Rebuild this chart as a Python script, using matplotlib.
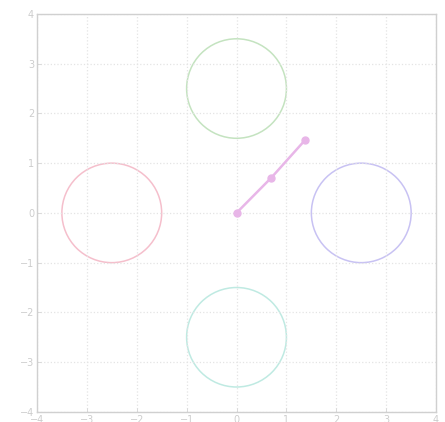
import matplotlib
matplotlib.use("Agg")
import matplotlib.pyplot as plt
from matplotlib.patches import Circle

# Circle centres and colours
centers_x = [0.0, -2.5, 2.5, 0.0]
centers_y = [2.5, 0.0, 0.0, -2.5]
radius = 1.0
circle_colors = ["#c4e3c0", "#f5bfcc", "#c8c2f3", "#bfeae2"]

# Pendulum arm points
arm_x = [0.0, 0.70, 1.37]
arm_y = [0.0, 0.71, 1.46]

ticks = [-4, -3, -2, -1, 0, 1, 2, 3, 4]

fig = plt.figure(figsize=(4.45, 4.22), dpi=100)
ax = fig.add_axes([0.083, 0.024, 0.897, 0.943])

for cx, cy, col in zip(centers_x, centers_y, circle_colors):
    ax.add_patch(Circle((cx, cy), radius, fill=False, edgecolor=col, linewidth=1.1))

ax.plot(arm_x, arm_y, color="#e8b6e8", linewidth=1.8, marker="o", markersize=5)

ax.set_xlim(-4, 4)
ax.set_ylim(-4, 4)
ax.set_xticks(ticks)
ax.set_yticks(ticks)
ax.set_xticklabels(["\u2212%d" % -t if t < 0 else str(t) for t in ticks])
ax.set_yticklabels(["\u2212%d" % -t if t < 0 else str(t) for t in ticks])
ax.grid(True, linestyle=":", color="#e4e4e4", linewidth=0.9)
ax.tick_params(direction="in", length=3, width=0.6, colors="#d4d4d4",
               labelsize=7, labelcolor="#cdcdcd", pad=2)
for s in ax.spines.values():
    s.set_color("#d0d0d0")
    s.set_linewidth(1.0)

fig.savefig("out.png", dpi=100)
